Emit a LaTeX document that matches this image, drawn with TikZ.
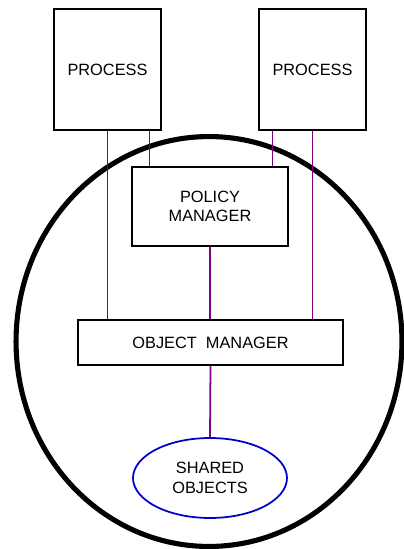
\documentclass[tikz,border=0pt]{standalone}
\usepackage{fontspec}
\setmainfont{Liberation Sans}
\usetikzlibrary{calc,shapes.geometric}
\definecolor{linkpurple}{RGB}{128,0,128}
\definecolor{sharedblue}{RGB}{0,0,205}

\begin{document}
\begin{tikzpicture}[x=0.02cm, y=-0.02cm,
	box/.style={draw, line width=0.6pt, fill=white, align=center, inner sep=0pt,
		font=\fontsize{9.3}{11}\selectfont},
	link/.style={draw=linkpurple, line width=1pt}]
		%%%%% START %%%%%
		\useasboundingbox (0, 0) rectangle (404, 549);
		
		% kernel boundary
		\draw[line width=2.9pt] (209, 341.5) ellipse (3.86cm and 4.1cm);
		
		\node[box, minimum width=2.14cm, minimum height=2.42cm] (procL) at (107.5, 69.5) {PROCESS};
		\node[box, minimum width=2.14cm, minimum height=2.42cm] (procR) at (312.5, 69.5) {PROCESS};
		
		\node[box, minimum width=3.12cm, minimum height=1.58cm] (polmgr) at (210, 206.5) {POLICY\\MANAGER};
		\node[box, minimum width=5.3cm, minimum height=0.9cm] (objmgr) at (210.5, 342.5) {OBJECT\ \ MANAGER};
		
		\node[box, ellipse, draw=sharedblue, line width=1pt, minimum width=3.08cm, minimum height=1.6cm] (shared) at (210, 478) {SHARED\\OBJECTS};
		
		% connections
		\draw[link] (procL.south) -- (procL.south |- objmgr.north);
		\draw[link] ([xshift=0.84cm]procL.south) -- ([xshift=0.84cm]procL.south |- polmgr.north);
		\draw[link] ([xshift=-0.8cm]procR.south) -- ([xshift=-0.8cm]procR.south |- polmgr.north);
		\draw[link] (procR.south) -- (procR.south |- objmgr.north);
		\draw[link] (polmgr.south) -- (polmgr.south |- objmgr.north);
		\draw[link] (objmgr.south) -- (shared.north);
		
		%%%%% END %%%%%
\end{tikzpicture}
\end{document}
